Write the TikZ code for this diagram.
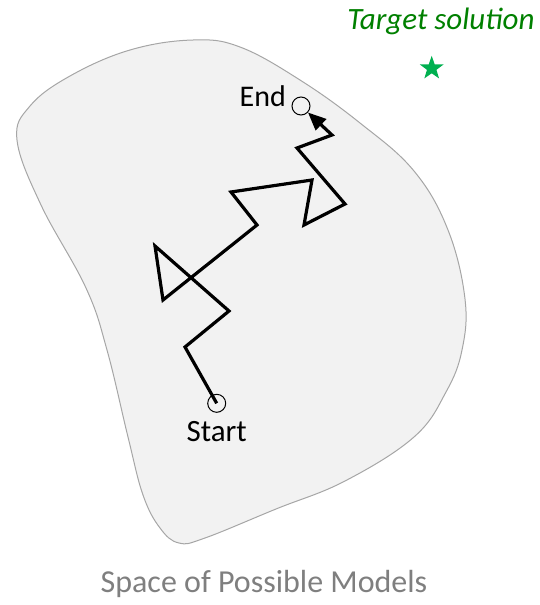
\documentclass[tikz,border=0pt]{standalone}
\usepackage{fontspec}
\setmainfont{Carlito}
\usetikzlibrary{arrows.meta,shapes.geometric}
\definecolor{blobfill}{HTML}{F2F2F2}
\definecolor{blobline}{HTML}{A6A6A6}
\definecolor{targettext}{RGB}{0,128,0}
\definecolor{starcol}{HTML}{00B050}
\definecolor{captioncol}{HTML}{7F7F7F}
\tikzset{
  walk/.style={line width=3.2pt, line join=miter},
  ptcircle/.style={circle, draw, line width=1pt, minimum size=18pt, inner sep=0pt},
  lbl/.style={font=\fontsize{31}{33}\selectfont, inner sep=0pt},
}
\begin{document}
\begin{tikzpicture}[x=1pt,y=-1pt]
\useasboundingbox (0,0) rectangle (540,605);
% space of models
\draw[blobline, fill=blobfill, line width=1pt] plot[smooth cycle, tension=0.65] coordinates {
 (17,140) (30,106) (70,76) (130,50) (193,40) (240,47) (300,80) (360,123)
 (414,171) (448,230) (465,299) (462,350) (446,392) (414,437) (345,481)
 (276,509) (205,538) (179,543) (160,528) (143,495) (128,437) (107,350)
 (86,288) (41,205)};
% nodes
\node[ptcircle] (startc) at (216.7,403.3) {};
\node[ptcircle] (endc) at (301,106) {};
\node[lbl, anchor=base] (startl) at (216.7,441.7) {Start};
\node[lbl, anchor=base east, font=\fontsize{30}{32}\selectfont] (endl) at (286,106.7) {End};
\node[lbl, anchor=base, font=\fontsize{31}{33}\selectfont\itshape, text=targettext] (target) at (441,29) {Target solution};
\node[star, star points=5, star point ratio=2.5, fill=starcol, minimum size=25pt, inner sep=0pt] (starn) at (431.7,68.3) {};
\node[lbl, anchor=base, text=captioncol, font=\fontsize{32}{34}\selectfont] (caption) at (264,592) {Space of Possible Models};
% walk vertices
\coordinate (p1) at (185,347);
\coordinate (p2) at (229,311);
\coordinate (p3) at (155,246);
\coordinate (p4) at (163,300);
\coordinate (p5) at (257,225);
\coordinate (p6) at (231,192);
\coordinate (p7) at (312,180);
\coordinate (p8) at (304,225);
\coordinate (p9) at (345,204);
\coordinate (p10) at (297,148);
\coordinate (p11) at (332,135);
\draw[walk, -{Triangle[length=18pt,width=15pt]}] (startc.center) -- (p1) -- (p2) -- (p3) -- (p4) -- (p5) -- (p6) -- (p7) -- (p8) -- (p9) -- (p10) -- (p11) -- (endc);
\end{tikzpicture}
\end{document}
